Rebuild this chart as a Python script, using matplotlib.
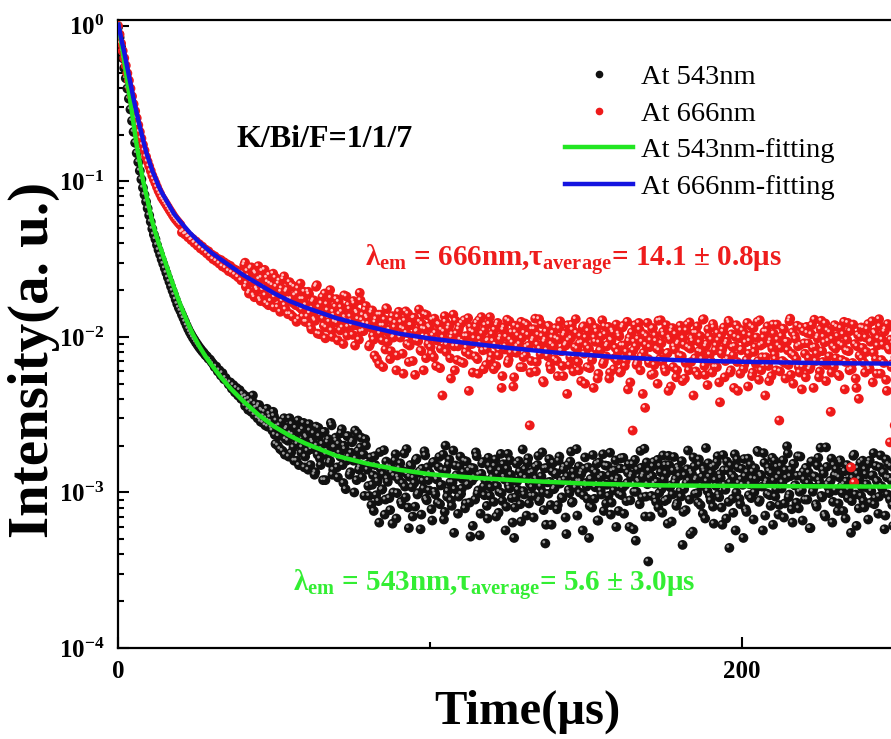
import numpy as np
import matplotlib
matplotlib.use('Agg')
import matplotlib.pyplot as plt
from matplotlib.lines import Line2D
from matplotlib.transforms import ScaledTranslation
from matplotlib.ticker import LogLocator, NullFormatter

# ---------------- data ----------------
time_step_us = 0.5      # sampling step of the decay traces
mid_start_us = 40.25    # second (interleaved) set of samples starts here

# intensity at 543 nm, in units of 1e-5 (t = 0, 0.5, 1.0, ...)
i543_e5 = [
    98000, 84000, 73000, 62000, 53500, 46000, 39500, 34000, 29000, 24500,
    20800, 17700, 15200, 13300, 11700, 10300, 9100, 8200, 7400, 6700,
    6050, 5500, 4950, 4550, 4250, 3900, 3620, 3380, 3150, 2950,
    2760, 2580, 2410, 2260, 2110, 1980, 1860, 1740, 1630, 1540,
    1470, 1390, 1320, 1250, 1185, 1125, 1075, 1030, 990, 955,
    920, 890, 860, 835, 810, 790, 765, 750, 725, 715,
    690, 670, 640, 645, 600, 610, 565, 585, 535, 545,
    520, 495, 510, 465, 490, 440, 470, 420, 455, 400,
    430, 385, 415, 360, 400, 345, 385, 330, 370, 315,
    355, 295, 340, 280, 330, 300, 265, 320, 285, 250,
    310, 205, 265, 230, 190, 285, 240, 175, 255, 215,
    300, 180, 235, 160, 260, 205, 150, 245, 195, 280,
    170, 225, 140, 250, 190, 210, 130, 265, 175, 230,
    150, 205, 245, 120, 185, 220, 160, 270, 140, 195,
    215, 125, 180, 240, 150, 200, 105, 230, 170, 135,
    210, 160, 250, 120, 185, 145, 225, 175, 95, 200,
    140, 95, 168, 112, 76, 150, 125, 88, 182, 104, 131, 72, 158, 117, 92, 145, 63, 128, 176, 99,
    121, 154, 84, 137, 109, 190, 80, 126, 148, 70, 115, 162, 97, 134, 58, 142, 106, 173, 89, 120,
    133, 78, 156, 101, 124, 86, 169, 111, 140, 67, 200, 94, 151, 116, 82, 186, 105, 129, 73, 147,
    98, 122, 160, 85, 112, 138, 52, 119, 143, 90, 171, 103, 53, 132, 157, 96, 118, 68, 149, 108,
    125, 87, 163, 110, 74, 139, 99, 152, 121, 81, 177, 106, 130, 64, 51, 93, 118, 159, 84, 128,
    102, 141, 71, 166, 114, 95, 135, 95, 123, 150, 88, 109, 181, 77, 47, 144, 98, 117, 62, 155,
    107, 133, 83, 170, 119, 92, 146, 69, 127, 104, 158, 86, 136, 112, 190, 118, 100, 131, 57, 142,
    115, 91, 51, 122, 80, 139, 108, 153, 66, 124, 97, 176, 113, 85, 148, 129, 72, 137, 103, 161,
    118, 76, 143, 96, 167, 111, 88, 134, 60, 126, 152, 101, 49, 140, 117, 185, 93, 130, 70, 156,
    36, 124, 95, 147, 114, 87, 162, 99, 135, 74, 121, 150, 90, 172, 108, 65, 138, 116, 82, 145,
    128, 94, 46, 105, 77, 141, 119, 54, 132, 168, 98, 123, 86, 151, 110, 73, 137, 193, 102, 126,
    89, 146, 63, 120, 157, 97, 131, 80, 174, 112, 68, 139, 44, 149, 91, 125, 57, 163, 115, 84,
    142, 51, 127, 75, 165, 113, 92, 136, 100, 122, 185, 87, 130, 109, 179, 71, 118, 145, 96, 133,
    62, 160, 104, 124, 83, 148, 116, 69, 139, 198, 93, 127, 78, 153, 111, 86, 171, 101, 129, 66,
    121, 144, 90, 134, 59, 158, 107, 126, 81, 167, 114, 95, 140, 72, 195, 113, 99, 119, 64, 150,
    103, 128, 85, 161, 110, 76, 137, 118, 92, 146, 55, 124, 175, 97, 132, 79, 155, 108, 88, 141,
    113, 67, 160, 102, 129, 84, 148, 117, 94, 173, 106, 135, 71, 125, 152, 90, 119, 61, 143, 100,
]

# 543 nm, interleaved samples at t = 40.25, 40.75, ... (units of 1e-5)
i543_mid_e5 = [
    410, 360, 395, 340, 375, 330, 420, 315, 350, 300, 365, 285, 335, 310, 270, 345, 290, 305, 260, 330,
    235, 290, 200, 270, 250, 185, 300, 220, 260, 170, 240, 275, 195, 225, 160, 290, 210, 180, 255, 145,
    230, 185, 275, 150, 215, 240, 135, 200, 260, 165, 190, 120, 245, 175, 210, 155, 280, 130, 195, 225,
    145, 205, 170, 255, 115, 190, 160, 230, 130, 180, 215, 100, 165, 240, 140, 195, 125, 175, 220, 150,
    110, 152, 83, 129, 171, 96, 118, 64, 141, 105, 187, 90, 123, 147, 77, 134, 100, 160, 68, 126,
    143, 87, 115, 178, 93, 131, 59, 150, 108, 124, 81, 165, 99, 137, 72, 119, 184, 91, 145, 103,
    128, 66, 157, 97, 121, 146, 84, 112, 175, 75, 138, 102, 163, 89, 116, 55, 149, 127, 94, 170,
    106, 135, 79, 158, 113, 86, 144, 61, 125, 181, 98, 130, 73, 154, 109, 120, 82, 167, 95, 139,
    117, 148, 70, 132, 101, 177, 88, 126, 57, 142, 111, 161, 92, 119, 80, 153, 104, 136, 65, 189,
    97, 124, 155, 85, 133, 108, 69, 146, 118, 172, 90, 127, 100, 143, 62, 116, 164, 83, 137, 105,
    131, 78, 160, 114, 93, 140, 121, 54, 150, 99, 183, 87, 125, 107, 71, 147, 118, 136, 96, 168,
    109, 145, 82, 122, 174, 91, 134, 66, 156, 103, 128, 76, 149, 112, 95, 180, 86, 121, 139, 60,
    123, 98, 166, 107, 73, 141, 115, 152, 89, 130, 58, 162, 101, 119, 84, 144, 126, 191, 94, 113,
    138, 70, 127, 157, 92, 117, 80, 148, 105, 173, 88, 132, 63, 150, 111, 97, 169, 122, 85, 140,
    102, 159, 75, 129, 115, 186, 90, 136, 56, 147, 120, 99, 163, 83, 126, 142, 68, 118, 154, 95,
    133, 81, 149, 110, 171, 93, 124, 62, 139, 104, 158, 87, 116, 130, 74, 176, 100, 145, 91, 121,
    112, 164, 78, 135, 96, 151, 123, 67, 143, 108, 182, 89, 127, 57, 155, 114, 98, 137, 82, 167,
    119, 94, 146, 72, 131, 106, 161, 85, 124, 178, 97, 140, 64, 152, 111, 128, 79, 170, 103, 136,
    90, 143, 115, 59, 158, 101, 127, 84, 149, 120, 194, 93, 132, 70, 146, 108, 118, 165, 87, 129,
    141, 76, 125, 156, 99, 113, 68, 150, 104, 137, 88, 172, 116, 61, 143, 122, 95, 160, 80, 131,
    107, 153, 86, 128, 179, 92, 119, 73, 145, 110, 134, 58, 163, 97, 124, 148, 83, 117, 139, 101,
]

# intensity at 666 nm, in units of 1e-5 (t = 0, 0.5, 1.0, ...)
i666_e5 = [
    100000, 88000, 77000, 69000, 62000, 55500, 49500, 44500, 39500, 35200,
    31400, 28300, 25500, 23000, 20800, 18900, 17200, 15800, 14400, 13400,
    12500, 11700, 10900, 10300, 9750, 9200, 8700, 8300, 7900, 7620,
    7350, 7080, 6820, 6560, 6330, 6100, 5880, 5700, 5540, 5390,
    5250,
    4700, 4790, 4560, 4600, 4370, 4420, 4190, 4260, 4020, 4110,
    3860, 3950, 3700, 3810, 3580, 3650, 3440, 3550, 3300, 3390,
    3160, 3300, 3070, 3180, 2960, 3120, 2840, 3020, 2770, 2930,
    2650, 2860, 2590, 2740, 2510, 2680, 2420, 2620, 2310, 2560,
    2900, 2100, 2650, 1900, 2750, 2250, 1850, 2600, 2050, 2850,
    1750, 2400, 2000, 2700, 1650, 2250, 2500, 1700, 2150, 1550,
    2400, 1850, 2200, 1450, 2050, 2350, 1600, 1950, 1400, 2250,
    1750, 1350, 2100, 1600, 1900, 1300, 2200, 1500, 1750, 1250,
    1250, 1950, 1420, 1120, 1680, 1300, 2100, 1050, 1550, 1380,
    1800, 1180, 980, 1620, 1330, 2000, 1100, 1450, 1250, 1750,
    950, 1400, 1550, 1150, 1850, 1280, 1020, 1600, 1350, 1180,
    1700, 880, 1450, 1300, 1920, 1080, 1380, 1220, 1580,
    1320, 870, 1150, 1480, 960, 1240, 720, 1390, 1050, 1180, 640, 1290, 1530, 930, 1110, 810, 1360, 1000, 1230, 760,
    1450, 990, 1140, 580, 1270, 1060, 1410, 880, 1190, 700, 1330, 950, 1090, 1500, 820, 1210, 610, 1120, 1380, 900,
    1150, 780, 1020, 1310, 650, 960, 1200, 840, 420, 1080, 1250, 890, 1130, 730, 990, 1390, 610, 1050, 870, 1180,
    690, 930, 1280, 800, 1010, 450, 1160, 900, 1070, 750, 1230, 580, 970, 1340, 820, 1100, 660, 940, 1210, 710,
    1040, 620, 890, 1190, 760, 960, 470, 1110, 830, 1000, 680, 1260, 790, 920, 550, 1070, 870, 1150, 640, 980,
    740, 1220, 860, 1030, 270, 700, 940, 1120, 600, 890, 1300, 770, 1010, 510, 960, 820, 1180, 660, 900, 1060,
    720, 980, 560, 1130, 810, 650, 1020, 880, 430, 950, 740, 1200, 600, 860, 1060, 690, 910, 520, 1150, 780,
    990, 640, 840, 1250, 710, 470, 930, 1080, 580, 820, 1010, 670, 1170, 750, 890, 540, 960, 1100, 620, 850,
    700, 1050, 590, 880, 1180, 650, 800, 460, 990, 760, 250, 930, 870, 680, 1230, 610, 930, 790, 350, 1010,
    720, 860, 570, 1140, 660, 940, 500, 820, 1280, 690, 1030, 600, 780, 450, 960, 1090, 640, 830, 550, 900,
    760, 1100, 520, 890, 680, 1200, 610, 840, 980, 420, 730, 1060, 570, 920, 800, 1290, 650, 870, 490, 1010,
    700, 590, 1150, 820, 640, 950, 380, 780, 1080, 550, 900, 720, 1230, 610, 860, 470, 1000, 690, 1130, 580,
    830, 620, 1040, 710, 480, 940, 1170, 590, 800, 670, 1250, 530, 880, 740, 990, 420, 1080, 650, 910, 560,
    1200, 770, 610, 960, 290, 850, 700, 1120, 540, 930, 660, 1310, 780, 500, 1020, 720, 870, 590, 1150, 640,
    910, 550, 1060, 730, 640, 1190, 470, 860, 780, 1010, 600, 1270, 690, 920, 520, 1100, 750, 330, 970, 640,
    840, 1160, 570, 900, 710, 1040, 460, 820, 1230, 610, 145, 680, 116, 540, 870, 400, 1000, 730, 1140, 590,
    800, 1210, 620, 940, 510, 1070, 720, 880, 1300, 580, 960, 680, 1120, 450, 850, 210, 640, 910, 270, 1180,
]

# 666 nm, interleaved samples at t = 40.25, 40.75, ... (units of 1e-5)
i666_mid_e5 = [
    2500, 3000, 2200, 2450, 1950, 2800, 2300, 1800, 2550, 2000, 2350, 1700, 2650, 2100, 1850, 2400, 1600, 2200, 1900, 2550,
    1800, 2100, 1550, 2300, 1950, 1700, 2450, 1500, 2000, 1750, 1400, 2150, 1650, 1850, 1250, 2050, 1550, 1750, 1350, 1950,
    1600, 1350, 1880, 1180, 1520, 1720, 1270, 2150, 1420, 1040, 1640, 1310, 1900, 1150, 1480, 1250, 1780, 1000, 1370, 1560,
    1230, 1680, 1100, 1450, 900, 1340, 1820, 1160, 1510, 1260, 1030, 1640, 1190, 1420, 960, 1720, 1280, 1090, 1490, 1350,
    1210, 890, 1430, 1020, 760, 1300, 1110, 670, 1390, 950, 1180, 830, 1510, 1060, 720, 1270, 990, 1150, 610, 1340,
    1040, 1240, 780, 1120, 1460, 900, 690, 1190, 1010, 1320, 570, 1080, 940, 1250, 810, 1130, 1400, 730, 1000, 1170,
    860, 1290, 740, 1060, 950, 1210, 630, 1110, 990, 1360, 800, 920, 1180, 540, 1040, 870, 1270, 710, 1120, 960,
    1230, 680, 1010, 850, 1320, 770, 1090, 590, 980, 1160, 720, 1280, 900, 1050, 620, 1190, 830, 950, 1340, 760,
    940, 1110, 650, 1230, 820, 1000, 560, 1150, 870, 1290, 710, 960, 1070, 480, 1180, 790, 1020, 900, 1250, 640,
    1060, 760, 1190, 880, 590, 1120, 970, 1310, 690, 1030, 840, 1210, 520, 930, 1080, 750, 1160, 620, 990, 870,
    1140, 700, 960, 1260, 810, 560, 1050, 900, 1190, 660, 980, 1110, 740, 1300, 840, 610, 1010, 920, 1170, 500,
    880, 1090, 630, 1220, 770, 990, 1140, 540, 920, 820, 1280, 690, 1040, 870, 1160, 590, 950, 1070, 730, 1200,
    800, 1010, 600, 1150, 880, 700, 1250, 940, 510, 1070, 820, 1190, 660, 970, 1110, 750, 430, 1040, 890, 1230,
    680, 950, 1130, 580, 1020, 840, 1270, 720, 910, 1080, 630, 1190, 790, 990, 480, 1140, 870, 1040, 610, 920,
    1180, 750, 980, 540, 1100, 860, 1240, 690, 940, 1060, 600, 1170, 810, 1010, 720, 1300, 570, 900, 1120, 770,
    960, 1210, 640, 880, 1060, 510, 1000, 830, 1150, 700, 930, 1270, 590, 1040, 760, 870, 1190, 450, 980, 820,
    1100, 660, 920, 1230, 780, 1020, 560, 1140, 860, 990, 700, 1280, 610, 900, 1080, 740, 1170, 520, 950, 840,
    1050, 720, 1200, 880, 600, 1010, 1130, 680, 930, 820, 1260, 570, 1070, 760, 970, 1180, 640, 890, 460, 1090,
    780, 1160, 910, 620, 1040, 850, 1290, 700, 980, 550, 1120, 810, 1000, 1220, 660, 940, 1070, 590, 870, 1190,
    730, 1010, 560, 1140, 880, 1250, 690, 960, 810, 1090, 620, 1200, 900, 470, 1030, 760, 1150, 850, 680, 990,
    1120, 640, 930, 1260, 790, 1050, 580, 980, 1170, 710, 890, 1080, 530, 1210, 830, 960, 670, 1140, 740, 1010,
]

# fitted curves
fit543_t = [0, 1, 2, 3, 4, 5, 6, 7, 8, 9, 10, 11, 12, 13, 14, 15, 16, 17, 18, 19, 20, 21, 22, 23, 24,
            26, 28, 30, 33, 36, 40, 45, 50, 55, 60, 70, 80, 90, 100, 115, 130, 150, 175, 200, 250]
fit543_i = [1.05, 0.794, 0.589, 0.437, 0.324, 0.234, 0.170, 0.132, 0.102, 0.0832, 0.0676, 0.0550,
            0.0468, 0.0403, 0.0355, 0.0309, 0.0269, 0.0235, 0.0207, 0.0182, 0.0161, 0.0143, 0.0128,
            0.0115, 0.0104, 0.00875, 0.00752, 0.00661, 0.00550, 0.00468, 0.00389, 0.00316, 0.00266,
            0.00232, 0.00207, 0.00172, 0.00153, 0.00140, 0.00131, 0.00124, 0.00119, 0.00114, 0.00111,
            0.00110, 0.00109]
fit666_t = [0, 1, 2, 3, 4, 5, 6, 7, 8, 9, 10, 11, 12, 13, 14, 16, 18, 20, 23, 26, 30, 35, 40, 45,
            50, 55, 60, 70, 80, 90, 100, 110, 125, 140, 160, 180, 200, 225, 250]
fit666_i = [1.05, 0.832, 0.676, 0.537, 0.427, 0.339, 0.275, 0.224, 0.186, 0.155, 0.135, 0.117, 0.105,
            0.0933, 0.0851, 0.0724, 0.0617, 0.0550, 0.0468, 0.0407, 0.0347, 0.0295, 0.0251, 0.0219,
            0.0191, 0.0170, 0.0155, 0.0132, 0.0117, 0.0105, 0.00977, 0.00923, 0.00851, 0.00794,
            0.00741, 0.00708, 0.00692, 0.00679, 0.00673]

legend_labels = ['At 543nm', 'At 666nm', 'At 543nm-fitting', 'At 666nm-fitting']
xtick_vals = [0, 200]
xtick_labels = ['0', '200']
xminor_vals = [100]
ytick_vals = [1e-4, 1e-3, 1e-2, 1e-1, 1e0]
ytick_labels = [r'$\mathbf{10^{-4}}$', r'$\mathbf{10^{-3}}$', r'$\mathbf{10^{-2}}$',
                r'$\mathbf{10^{-1}}$', r'$\mathbf{10^{0}}$']

# ---------------- style ----------------
plt.rcParams['font.family'] = ['Liberation Serif', 'DejaVu Serif']
plt.rcParams['mathtext.fontset'] = 'custom'
plt.rcParams['mathtext.rm'] = 'Liberation Serif'
plt.rcParams['mathtext.bf'] = 'Liberation Serif:bold'
plt.rcParams['mathtext.it'] = 'Liberation Serif:italic'

C_BLACK = '#111111'
C_RED = '#ee1a1a'
C_GREEN_LINE = '#22e622'
C_BLUE_LINE = '#1414e0'
C_GREEN_TXT = '#33ee33'
C_RED_TXT = '#ee1c1c'
BALL = 50
SPEC = 4

W, H = 891, 739
fig = plt.figure(figsize=(W / 100, H / 100), dpi=100)
ax = fig.add_axes([118 / W, 91 / H, 811 / W, 628 / H])

t543 = np.concatenate([time_step_us * np.arange(len(i543_e5)),
                       mid_start_us + time_step_us * np.arange(len(i543_mid_e5))])
y543 = np.concatenate([i543_e5, i543_mid_e5]) * 1e-5
t666 = np.concatenate([time_step_us * np.arange(len(i666_e5)),
                       mid_start_us + time_step_us * np.arange(len(i666_mid_e5))])
y666 = np.concatenate([i666_e5, i666_mid_e5]) * 1e-5

hl = ax.transData + ScaledTranslation(-0.015, 0.015, fig.dpi_scale_trans)
ax.scatter(t543, y543, s=BALL, color=C_BLACK, edgecolors='none', zorder=2)
ax.scatter(t543, y543, s=SPEC, color='#9a9a9a', edgecolors='none', zorder=2.1, transform=hl)
ax.scatter(t666, y666, s=BALL, color=C_RED, edgecolors='none', zorder=3)
ax.scatter(t666, y666, s=SPEC, color='#ffc0c0', edgecolors='none', zorder=3.1, transform=hl)
ax.plot(fit543_t, fit543_i, color=C_GREEN_LINE, lw=3.2, zorder=4, solid_capstyle='butt')
ax.plot(fit666_t, fit666_i, color=C_BLUE_LINE, lw=3.2, zorder=4, solid_capstyle='butt')

ax.set_yscale('log')
ax.set_xlim(0, 260)
ax.set_ylim(1e-4, 1.09)

ax.set_xticks(xtick_vals)
ax.set_xticklabels(xtick_labels, fontsize=18, fontweight='bold')
ax.set_xticks(xminor_vals, minor=True)
ax.set_yticks(ytick_vals)
ax.set_yticklabels(ytick_labels, fontsize=18)
ax.yaxis.set_minor_locator(LogLocator(base=10, subs=np.arange(2, 10)))
ax.yaxis.set_minor_formatter(NullFormatter())

ax.tick_params(which='both', direction='in', width=1.5, top=False, right=False)
ax.tick_params(which='major', length=8)
ax.tick_params(which='minor', length=4.5)
ax.tick_params(axis='x', which='major', pad=9)
ax.tick_params(axis='y', which='major', pad=10)
for s in ax.spines.values():
    s.set_linewidth(1.6)

ax.set_ylabel('Intensity(a. u.)', fontsize=41, fontweight='bold')
ax.yaxis.set_label_coords((34 - 118) / 811, (648 - 360) / 628)
ax.yaxis.label.set_va('center')
ax.set_xlabel('Time(μs)', fontsize=35, fontweight='bold')
ax.xaxis.set_label_coords((527 - 118) / 811, -(712 - 648) / 628)
ax.xaxis.label.set_va('center')

ax.text(38.1, 0.166, 'K/Bi/F=1/1/7', fontsize=23, fontweight='bold', ha='left', va='baseline', zorder=5)
ax.text(79.2, 0.0281, r'λ$_{\mathbf{em}}$ = 666nm,τ$_{\mathbf{average}}$= 14.1 ± 0.8μs',
        fontsize=21, fontweight='bold', color=C_RED_TXT, ha='left', va='baseline', zorder=5)
ax.text(56.1, 2.29e-4, r'λ$_{\mathbf{em}}$ = 543nm,τ$_{\mathbf{average}}$= 5.6 ± 3.0μs',
        fontsize=21, fontweight='bold', color=C_GREEN_TXT, ha='left', va='baseline', zorder=1.5)

handles = [
    Line2D([], [], ls='none', marker='o', markersize=4.5, color=C_BLACK),
    Line2D([], [], ls='none', marker='o', markersize=4.5, color=C_RED),
    Line2D([], [], color=C_GREEN_LINE, lw=3.2),
    Line2D([], [], color=C_BLUE_LINE, lw=3.2),
]
fig.legend(handles, legend_labels, loc='upper left', bbox_to_anchor=(565 / W, 1 - 64 / H),
           bbox_transform=fig.transFigure, frameon=False, fontsize=20.5, handlelength=2.39,
           handletextpad=0.28, labelspacing=0.38, borderpad=0, borderaxespad=0)

fig.savefig('out.png', dpi=100)
